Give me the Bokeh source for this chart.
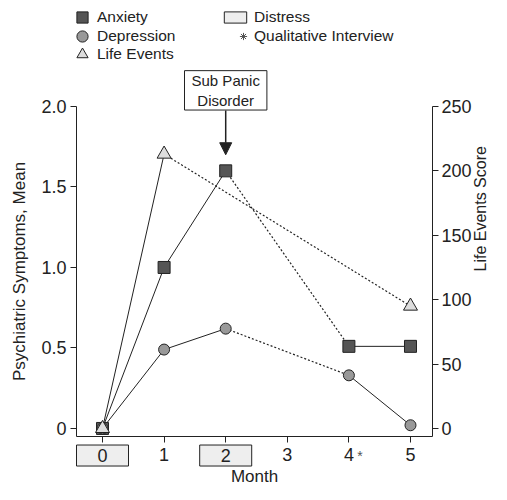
import math
from bokeh.plotting import figure
from bokeh.models import (Range1d, LinearAxis, Legend, LegendItem, Label, Arrow,
                          NormalHead, FixedTicker, NumeralTickFormatter)
from bokeh.embed import file_html
from bokeh.resources import INLINE

# ---- data ----
months = [0, 1, 2, 3, 4, 5]
anxiety_x = [0, 1, 2, 4, 5]
anxiety_y = [0.0, 1.0, 1.6, 0.51, 0.51]
depression_x = [0, 1, 2, 4, 5]
depression_y = [0.0, 0.49, 0.62, 0.33, 0.02]
life_x = [0, 1, 5]
life_y = [0, 213, 95]
distress_months = [0, 2]
interview_months = [4]
left_ticks = [0, 0.5, 1.0, 1.5, 2.0]
right_ticks = [0, 50, 100, 150, 200, 250]

# segments: which consecutive points are solid / dotted
anx_solid = [(0, 1), (1, 2), (3, 4)]
anx_dotted = [(2, 3)]
life_solid = [(0, 1)]
life_dotted = [(1, 2)]

INK = "#222222"
FONT = "Liberation Sans"

# frame spans the whole canvas; axes are pinned with fixed_location
X0, X1 = -0.422, 5.357       # plot box (axis positions)
Y0, Y1 = -0.05, 2.0
p = figure(width=491, height=484, title=None,
           min_border_left=0, min_border_right=0, min_border_top=0, min_border_bottom=0,
           x_range=Range1d(-1.656, 6.315), y_range=Range1d(-0.348, 2.658),
           x_axis_location=None, y_axis_location=None,
           output_backend="svg", toolbar_location=None)
p.extra_y_ranges = {"life": Range1d(-0.348 * 125, 2.658 * 125)}
p.outline_line_color = None
p.xgrid.visible = False
p.ygrid.visible = False


def segs(xs, ys, pairs):
    return [[xs[a], xs[b]] for a, b in pairs], [[ys[a], ys[b]] for a, b in pairs]


# lines
for xs, ys, solid, dotted, rng in [
    (anxiety_x, anxiety_y, anx_solid, anx_dotted, "default"),
    (depression_x, depression_y, anx_solid, anx_dotted, "default"),
    (life_x, life_y, life_solid, life_dotted, "life"),
]:
    sx, sy = segs(xs, ys, solid)
    p.multi_line(sx, sy, line_color=INK, line_width=1, y_range_name=rng)
    dx, dy = segs(xs, ys, dotted)
    p.multi_line(dx, dy, line_color=INK, line_width=1.2, line_dash="2 2", y_range_name=rng)

r_anx = p.scatter(anxiety_x, anxiety_y, marker="square", size=12, fill_color="#555555",
                  line_color=INK, line_width=1)
r_dep = p.scatter(depression_x, depression_y, marker="circle", size=11, fill_color="#999999",
                  line_color=INK, line_width=1)
r_life = p.scatter(life_x, life_y, marker="triangle", size=14, fill_color="#dddddd",
                   line_color=INK, line_width=1, y_range_name="life")
# legend-only renderers (placed far outside the visible ranges)
r_dist = p.rect(x=[-100], y=[-100], width=1, height=1, fill_color="#eeeeee", line_color=INK)
r_int = p.scatter(x=[-100], y=[-100], marker="asterisk", size=8, line_color="#555555")

# axes
xa = LinearAxis(ticker=FixedTicker(ticks=months), axis_label="Month",
                fixed_location=Y0, bounds=(X0, X1))
xa.major_label_overrides = {m: "" for m in distress_months}
p.add_layout(xa, "below")

ya = LinearAxis(ticker=FixedTicker(ticks=left_ticks), axis_label="Psychiatric Symptoms, Mean",
                fixed_location=X0, bounds=(Y0, Y1),
                formatter=NumeralTickFormatter(format="0.0"))
ya.major_label_overrides = {0: "0"}
p.add_layout(ya, "left")

ra = LinearAxis(y_range_name="life", ticker=FixedTicker(ticks=right_ticks),
                axis_label="Life Events Score", fixed_location=X1,
                bounds=(Y0 * 125, 250))
p.add_layout(ra, "right")

for ax in [xa, ya, ra]:
    ax.axis_line_color = INK
    ax.major_tick_line_color = INK
    ax.minor_tick_line_color = None
    ax.major_tick_out = 6
    ax.major_tick_in = 0
    ax.major_label_text_font = FONT
    ax.major_label_text_font_size = "18px"
    ax.major_label_text_color = INK
    ax.axis_label_text_font = FONT
    ax.axis_label_text_font_size = "17px"
    ax.axis_label_text_font_style = "normal"
    ax.axis_label_text_color = INK
xa.major_label_standoff = 5
xa.axis_label_standoff = 3
ya.major_label_standoff = 4
ya.axis_label_standoff = 9
ra.major_label_standoff = 3
ra.axis_label_standoff = 6
ra.axis_label_text_font_size = "16px"
ra.axis_label_orientation = math.pi / 2

# distress boxes around tick labels
for m in distress_months:
    p.add_layout(Label(x=m, y=-0.168, text=str(m), text_align="center", text_baseline="middle",
                       text_font=FONT, text_font_size="18px", text_color=INK,
                       border_line_color=INK, border_line_width=1,
                       background_fill_color="#eeeeee", padding=(21, 4)))
for m in interview_months:
    p.add_layout(Label(x=m + 0.18, y=-0.168, text="*", text_align="center",
                       text_baseline="middle", text_font=FONT, text_font_size="14px",
                       text_color="#555555"))

# Sub Panic Disorder annotation
p.add_layout(Label(x=2, y=2.1, text="Sub Panic\nDisorder", text_align="center",
                   text_baseline="middle", text_font=FONT, text_font_size="15px",
                   text_color=INK, border_line_color=INK, border_line_width=1,
                   background_fill_color="white", padding=(7, 1)))
p.add_layout(Arrow(end=NormalHead(size=12, fill_color=INK, line_color=INK),
                   x_start=2, y_start=1.975, x_end=2, y_end=1.70,
                   line_color=INK, line_width=1.5))

# legend: one Legend per entry so that the rows can sit closer than the key size
legend_specs = [
    ("Anxiety", r_anx, (68, 453), 28, 28, 1),
    ("Depression", r_dep, (68, 434), 28, 28, 1),
    ("Life Events", r_life, (68, 416), 28, 28, 1),
    ("Distress", r_dist, (221, 458), 28, 14, 5),
    ("Qualitative Interview", r_int, (234, 439), 18, 18, 2),
]
for label, rend, loc, gw, gh, so in legend_specs:
    lg = Legend(items=[LegendItem(label=label, renderers=[rend])], location=loc,
                glyph_width=gw, glyph_height=gh, label_standoff=so)
    lg.label_text_font = FONT
    lg.label_text_font_size = "15.5px"
    lg.label_text_color = INK
    lg.border_line_color = None
    lg.background_fill_alpha = 0
    lg.padding = 0
    lg.margin = 0
    p.add_layout(lg)

open("out.html", "w").write(file_html(p, INLINE))
